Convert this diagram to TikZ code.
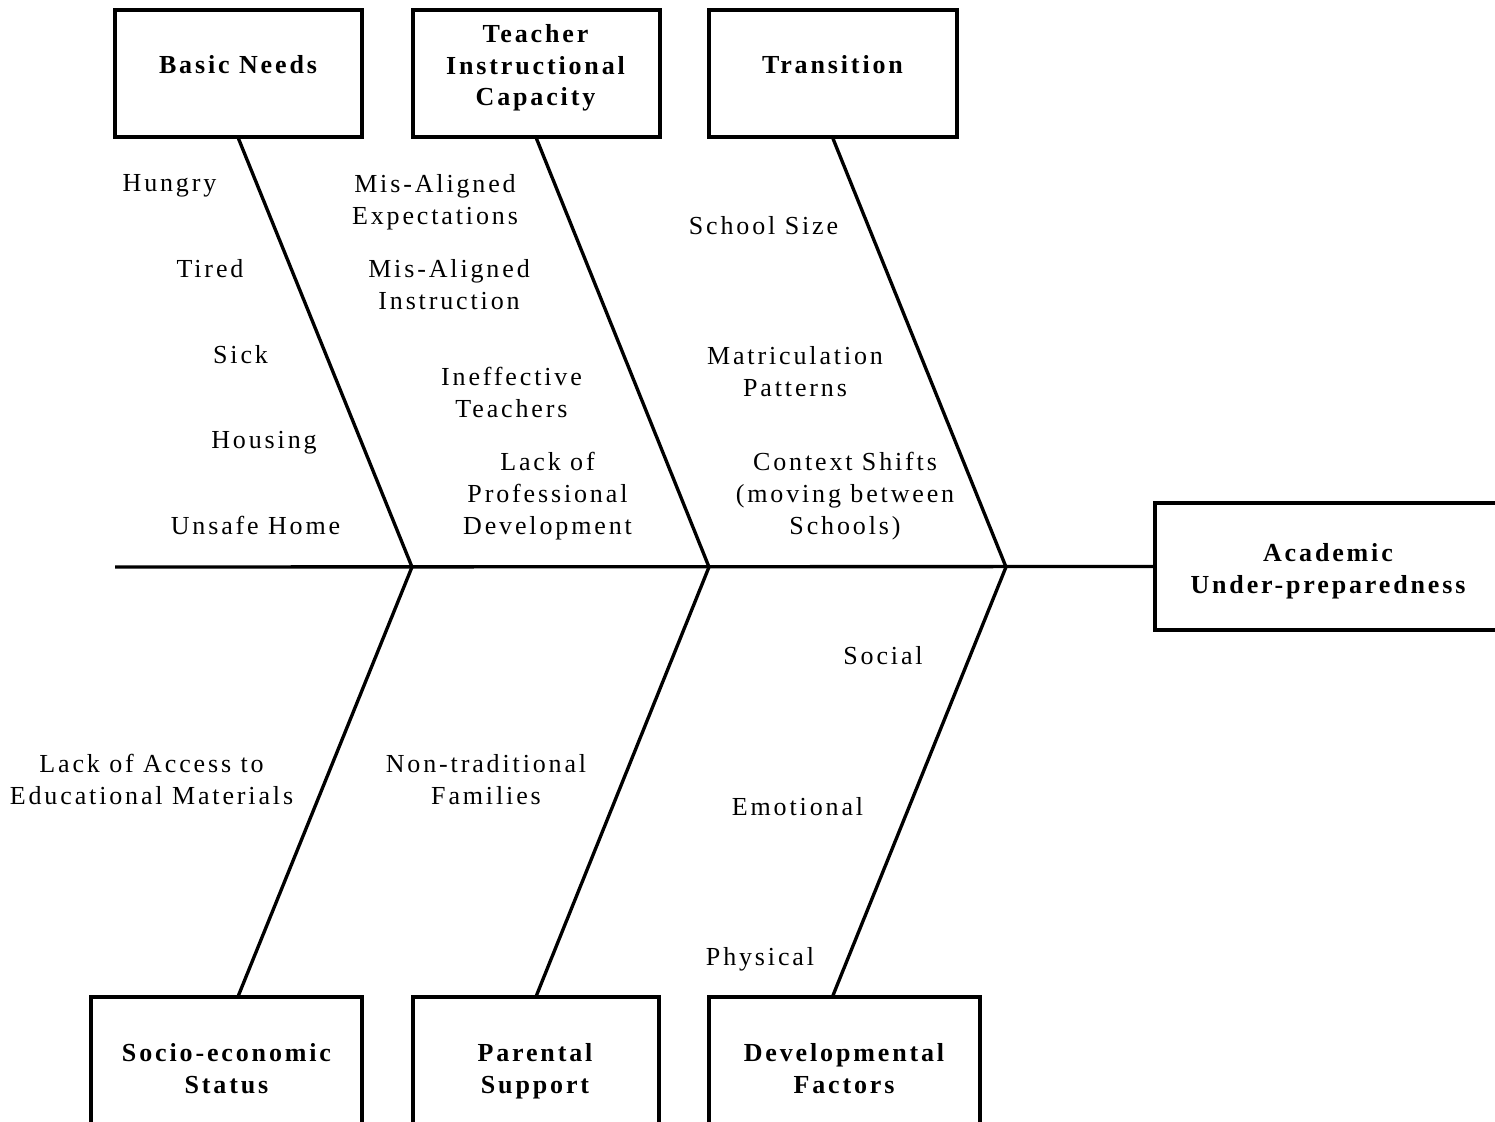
\documentclass[tikz,border=0pt]{standalone}
\usepackage{fontspec}
\setmainfont{Liberation Serif}[LetterSpace=11]
\usetikzlibrary{calc}

\begin{document}
\begin{tikzpicture}[x=0.02cm,y=-0.02cm,
  bone/.style={line width=1.9pt},
  box/.style={draw, line width=1.9pt, rectangle, inner sep=0pt, minimum height=2.54cm},
  title/.style={font=\fontsize{14.8}{18.2}\selectfont\bfseries, align=center, inner sep=0pt, anchor=base},
  cause/.style={font=\fontsize{14.8}{18.2}\selectfont, align=center, inner sep=0pt, anchor=base}]
\useasboundingbox (0,0) rectangle (1495,1122);
\clip (0,0) rectangle (1495,1122);

% category boxes
\node[box, minimum width=4.94cm] (bn)  at (238.5,73.5) {};
\node[box, minimum width=4.94cm] (tic) at (536.5,73.5) {};
\node[box, minimum width=4.96cm] (tr)  at (833,73.5) {};
\node[box, minimum width=5.42cm] (ses) at (226.5,1060.5) {};
\node[box, minimum width=4.92cm] (ps)  at (536,1060.5) {};
\node[box, minimum width=5.42cm] (df)  at (844.5,1060.5) {};
\node[box, minimum width=6.92cm] (au)  at (1328,566.5) {};

% box titles (base anchor sits on the last line)
\node[title] (bnt)  at (238,74)    {Basic Needs};
\node[title] (tict) at (535.5,106) {Teacher\\Instructional\\Capacity};
\node[title] (trt)  at (832.5,74)  {Transition};
\node[title] (sest) at (226.5,1093) {Socio-economic\\Status};
\node[title] (pst)  at (535,1093)  {Parental\\Support};
\node[title] (dft)  at (844,1093)  {Developmental\\Factors};
\node[title] (aut)  at (1328,593)  {Academic\\Under-preparedness};

% spine and bones
\coordinate (tail) at (115,567);
\coordinate (j1) at (412,567);
\coordinate (j2) at (709,567);
\coordinate (j3) at (1006,567);
\draw[bone] (tail) -- (au.west);
\draw[bone] (bn.south) -- (j1) -- (ses.north -| bn.south);
\draw[bone] (tic.south) -- (j2) -- (ps.north -| tic.south);
\draw[bone] (tr.south) -- (j3) -- (df.north -| tr.south);

% causes: basic needs
\node[cause] (c1) at (169.5,192) {Hungry};
\node[cause] (c2) at (210,277)   {Tired};
\node[cause] (c3) at (240.5,363) {Sick};
\node[cause] (c4) at (264,448)   {Housing};
\node[cause] (c5) at (255.5,534) {Unsafe Home};

% causes: teacher instructional capacity
\node[cause] (c6) at (435,224)   {Mis-Aligned\\Expectations};
\node[cause] (c7) at (449,309)   {Mis-Aligned\\Instruction};
\node[cause] (c8) at (511.5,417) {Ineffective\\Teachers};
\node[cause] (c9) at (547.5,534) {Lack of\\Professional\\Development};

% causes: transition
\node[cause] (c10) at (763.5,235) {School Size};
\node[cause] (c11) at (795,396)   {Matriculation\\Patterns};
\node[cause] (c12) at (845,534)   {Context Shifts\\(moving between\\Schools)};

% causes: lower branches
\node[cause] (c13) at (151.5,804) {Lack of Access to\\Educational Materials};
\node[cause] (c14) at (486,804)   {Non-traditional\\Families};
\node[cause] (c15) at (883,664)   {Social};
\node[cause] (c16) at (797.5,815) {Emotional};
\node[cause] (c17) at (760,965)   {Physical};
\end{tikzpicture}
\end{document}
